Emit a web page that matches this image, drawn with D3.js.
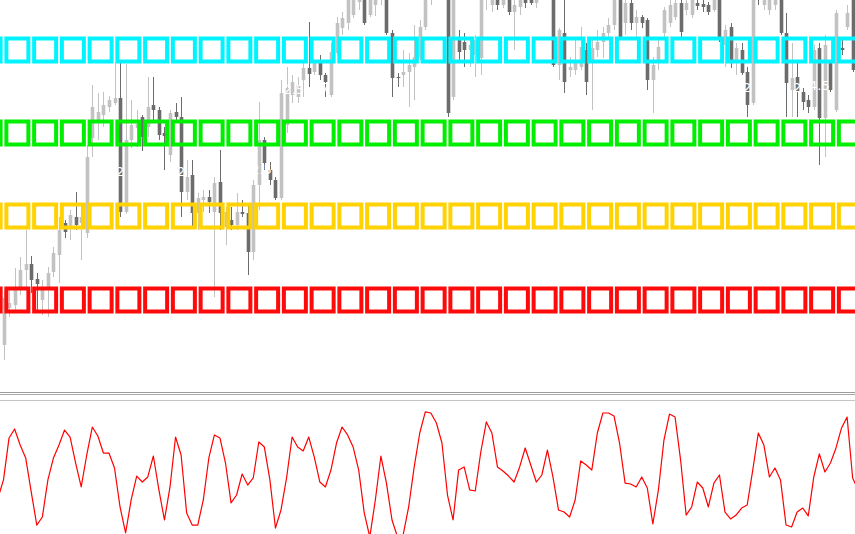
<!DOCTYPE html>
<html><head><meta charset="utf-8">
<script src="https://cdn.jsdelivr.net/npm/d3@7"></script>
<style>html,body{margin:0;padding:0;background:#fff;overflow:hidden}</style>
</head><body>
<svg id="c" width="855" height="534"></svg>
<script>
// ---- price bars (bar index = position in arrays) ----
const opens = [
1.0955,1.0992,1.0995,1.1010,1.1030,1.1036,1.1021,1.1000,1.1013,1.1028,
1.1045,1.1077,1.1072,1.1083,1.1077,1.1067,1.1162,1.1180,1.1185,1.1193,
1.1197,1.1202,1.1088,1.1160,1.1172,1.1183,1.1173,1.1195,1.1190,1.1167,
1.1145,1.1188,1.1183,1.1108,1.1125,1.1087,1.1100,1.1103,1.1088,1.1118,
1.1073,1.1080,1.1075,1.1088,1.1087,1.1048,1.1115,1.1160,1.1130,1.1120,
1.1102,1.1175,1.1205,1.1203,1.1220,1.1232,1.1228,1.1237,1.1225,1.1205,
1.1247,1.1272,1.1277,1.1285,1.1298,1.1305,1.1285,1.1295,1.1300,1.1308,
1.1267,1.1223,1.1225,1.1228,1.1233,1.1243,1.1273,1.1303,1.1315,1.1320,
1.1320,1.1203,1.1262,1.1258,1.1250,1.1245,1.1242,1.1300,1.1295,1.1305,
1.1295,1.1310,1.1288,1.1293,1.1302,1.1300,1.1297,1.1310,1.1315,1.1320,
1.1235,1.1267,1.1230,1.1230,1.1233,1.1250,1.1238,1.1250,1.1258,1.1267,
1.1275,1.1305,1.1277,1.1297,1.1277,1.1283,1.1280,1.1220,1.1237,1.1267,
1.1277,1.1283,1.1297,1.1290,1.1285,1.1297,1.1296,1.1295,1.1290,1.1305,
1.1255,1.1273,1.1238,1.1250,1.1228,1.1197,1.1310,1.1295,1.1290,1.1295,
1.1305,1.1267,1.1210,1.1223,1.1208,1.1200,1.1193,1.1252,1.1182,1.1237,
1.1190,1.1252,1.1273,1.1305];
const highs = [
1.1010,1.1013,1.1032,1.1043,1.1070,1.1044,1.1027,1.1020,1.1033,1.1053,
1.1083,1.1080,1.1090,1.1108,1.1097,1.1155,1.1215,1.1207,1.1208,1.1204,
1.1237,1.1237,1.1236,1.1200,1.1190,1.1185,1.1223,1.1223,1.1193,1.1173,
1.1190,1.1197,1.1203,1.1140,1.1140,1.1107,1.1110,1.1110,1.1123,1.1150,
1.1093,1.1093,1.1107,1.1100,1.1097,1.1120,1.1198,1.1163,1.1138,1.1123,
1.1220,1.1233,1.1225,1.1223,1.1240,1.1278,1.1240,1.1245,1.1227,1.1257,
1.1283,1.1288,1.1310,1.1312,1.1320,1.1315,1.1310,1.1315,1.1320,1.1315,
1.1270,1.1227,1.1250,1.1247,1.1275,1.1280,1.1315,1.1325,1.1335,1.1340,
1.1330,1.1320,1.1270,1.1267,1.1263,1.1265,1.1315,1.1320,1.1315,1.1315,
1.1320,1.1320,1.1310,1.1315,1.1310,1.1305,1.1315,1.1330,1.1335,1.1330,
1.1272,1.1300,1.1243,1.1260,1.1273,1.1257,1.1263,1.1270,1.1273,1.1282,
1.1315,1.1315,1.1305,1.1305,1.1290,1.1285,1.1282,1.1243,1.1260,1.1293,
1.1300,1.1305,1.1300,1.1305,1.1308,1.1300,1.1300,1.1298,1.1310,1.1315,
1.1275,1.1277,1.1257,1.1257,1.1233,1.1315,1.1320,1.1310,1.1310,1.1310,
1.1315,1.1287,1.1257,1.1240,1.1212,1.1205,1.1255,1.1257,1.1265,1.1240,
1.1290,1.1260,1.1295,1.1315];
const lows = [
1.0940,1.0983,1.0987,1.1005,1.1013,1.1007,1.0987,1.0985,1.0983,1.1023,
1.1017,1.1062,1.1060,1.1070,1.1040,1.1062,1.1143,1.1160,1.1173,1.1188,
1.1195,1.1083,1.1086,1.1152,1.1153,1.1149,1.1163,1.1177,1.1160,1.1130,
1.1138,1.1178,1.1083,1.1100,1.1073,1.1070,1.1088,1.1087,1.1003,1.1070,
1.1055,1.1070,1.1070,1.1083,1.1025,1.1040,1.1090,1.1130,1.1115,1.1100,
1.1100,1.1167,1.1197,1.1197,1.1203,1.1213,1.1225,1.1220,1.1203,1.1203,
1.1245,1.1265,1.1270,1.1282,1.1290,1.1275,1.1283,1.1284,1.1295,1.1265,
1.1203,1.1213,1.1213,1.1193,1.1200,1.1240,1.1270,1.1295,1.1308,1.1310,
1.1183,1.1200,1.1237,1.1233,1.1233,1.1223,1.1225,1.1290,1.1288,1.1290,
1.1292,1.1285,1.1250,1.1285,1.1292,1.1295,1.1292,1.1303,1.1310,1.1233,
1.1220,1.1207,1.1223,1.1225,1.1230,1.1205,1.1190,1.1243,1.1242,1.1260,
1.1270,1.1260,1.1265,1.1270,1.1263,1.1272,1.1210,1.1187,1.1230,1.1260,
1.1273,1.1280,1.1263,1.1285,1.1282,1.1290,1.1288,1.1285,1.1288,1.1258,
1.1233,1.1232,1.1225,1.1225,1.1183,1.1195,1.1295,1.1290,1.1285,1.1290,
1.1265,1.1183,1.1183,1.1183,1.1190,1.1187,1.1190,1.1135,1.1143,1.1208,
1.1188,1.1245,1.1270,1.1228];
const closes = [
1.1002,1.0997,1.1010,1.1030,1.1036,1.1020,1.1016,1.1013,1.1027,1.1047,
1.1070,1.1068,1.1085,1.1075,1.1083,1.1143,1.1193,1.1188,1.1195,1.1200,
1.1202,1.1088,1.1160,1.1175,1.1176,1.1163,1.1193,1.1190,1.1165,1.1164,
1.1187,1.1183,1.1108,1.1123,1.1087,1.1102,1.1103,1.1098,1.1117,1.1087,
1.1088,1.1075,1.1088,1.1086,1.1048,1.1115,1.1160,1.1137,1.1120,1.1102,
1.1207,1.1212,1.1218,1.1215,1.1232,1.1226,1.1237,1.1225,1.1218,1.1248,
1.1277,1.1282,1.1300,1.1305,1.1310,1.1277,1.1303,1.1305,1.1310,1.1267,
1.1222,1.1222,1.1228,1.1235,1.1243,1.1273,1.1305,1.1315,1.1325,1.1330,
1.1187,1.1310,1.1248,1.1250,1.1255,1.1260,1.1305,1.1310,1.1305,1.1295,
1.1310,1.1288,1.1295,1.1305,1.1297,1.1297,1.1305,1.1320,1.1325,1.1235,
1.1270,1.1218,1.1233,1.1240,1.1253,1.1218,1.1252,1.1258,1.1267,1.1275,
1.1305,1.1263,1.1297,1.1277,1.1283,1.1277,1.1220,1.1235,1.1253,1.1290,
1.1295,1.1297,1.1268,1.1297,1.1300,1.1294,1.1293,1.1288,1.1303,1.1260,
1.1270,1.1240,1.1252,1.1227,1.1195,1.1305,1.1300,1.1305,1.1300,1.1303,
1.1267,1.1217,1.1222,1.1208,1.1198,1.1193,1.1250,1.1182,1.1255,1.1210,
1.1287,1.1250,1.1287,1.1230];

// ---- horizontal levels drawn as rows of square markers ----
const levelPrices = [1.1250, 1.1167, 1.1084, 1.1000];
const levelColors = ["#00f4ff", "#00ee00", "#ffd200", "#ff0a0a"];
const markerEvery = 5;      // one square marker every 5 bars
const markerOffset = 2.5;   // first marker between bar 2 and 3

// ---- oscillator (sub-window), first value belongs to bar -1 ----
const oscStart = -1;
const oscValues = [
32.3,46.2,78.5,85.4,73.1,63.1,36.9,11.5,17.7,46.2,63.1,
73.1,84.6,79.2,59.2,40.8,65.4,86.9,80.0,66.9,66.9,
55.4,25.4,5.4,30.8,49.2,44.6,48.5,64.6,38.5,15.4,
40.8,79.2,65.4,20.8,11.5,11.5,30.8,63.1,80.8,78.5,
59.2,28.5,34.6,50.8,42.3,47.7,75.4,71.5,46.2,9.2,
23.1,47.7,79.2,71.5,68.5,79.2,63.8,44.6,40.8,53.8,
74.6,86.9,80.8,71.5,53.8,20.8,2.3,30.8,64.6,43.8,
15.4,2.3,3.8,25.4,56.2,82.3,98.5,97.7,90.0,74.6,
34.6,15.4,53.8,56.2,38.5,37.7,67.7,90.8,82.3,56.2,
53.1,49.2,44.6,56.2,70.8,57.7,44.6,50.0,69.2,48.5,
23.1,21.5,17.7,30.8,60.8,57.7,53.8,82.3,97.7,97.7,
95.4,74.6,43.8,43.1,40.8,48.5,40.0,12.3,38.5,76.9,
96.9,94.6,61.5,19.2,25.4,44.6,40.0,25.4,43.8,50.0,
21.5,16.2,19.2,24.6,26.9,53.8,82.3,73.1,48.5,55.4,
46.2,11.5,10.0,21.5,24.6,18.5,48.5,66.2,52.3,59.2,
70.8,86.2,94.6,47.7,38.5];

// ---- white text annotations on the chart (bar, price, text) ----
const noteText  = ["2", "2", "2.5", "2.5", "7", "2", "2", "4.5"];
const noteBar   = [21, 32, 46.5, 52.3, 58, 134, 143, 147];
const notePrice = [1.1128, 1.1128, 1.1130, 1.1210, 1.1212, 1.1212, 1.1212, 1.1214];

// ================= drawing =================
const W = 855, H = 534;
const svg = d3.select("#c");
const n = opens.length;

const x = d3.scaleLinear().domain([0, n - 1]).range([3.5, 852.65]);
const y = d3.scaleLinear().domain([1.13, 1.09]).range([0, 400]);
const yo = d3.scaleLinear().domain([0, 100]).range([540, 410]);

const bull = "#c2c2c2", bear = "#6c6c6c";
const bodyW = 3.6;

svg.append("rect").attr("width", W).attr("height", H).attr("fill", "#fff");

const defs = svg.append("defs");
defs.append("clipPath").attr("id", "main").append("rect")
  .attr("x", 0).attr("y", 0).attr("width", W).attr("height", 390);
defs.append("clipPath").attr("id", "sub").append("rect")
  .attr("x", 0).attr("y", 402).attr("width", W).attr("height", H - 402);

const main = svg.append("g").attr("clip-path", "url(#main)");
const bars = d3.range(n).map(i => ({i, o: opens[i], h: highs[i], l: lows[i], c: closes[i]}));

const cg = main.append("g").selectAll("g").data(bars).join("g");
cg.append("line")
  .attr("x1", d => Math.round(x(d.i)) + 0.5).attr("x2", d => Math.round(x(d.i)) + 0.5)
  .attr("y1", d => y(d.h)).attr("y2", d => y(d.l))
  .attr("stroke", d => d.c >= d.o ? bull : bear).attr("stroke-width", 1);
cg.append("rect")
  .attr("x", d => Math.round(x(d.i)) + 0.5 - bodyW / 2)
  .attr("width", bodyW)
  .attr("y", d => y(Math.max(d.o, d.c)))
  .attr("height", d => Math.max(1, Math.abs(y(d.o) - y(d.c))))
  .attr("fill", d => d.c >= d.o ? bull : bear);

// annotations (white text)
main.append("g").selectAll("text").data(noteText).join("text")
  .attr("x", (t, k) => x(noteBar[k]))
  .attr("y", (t, k) => y(notePrice[k]))
  .attr("text-anchor", "middle").attr("dominant-baseline", "middle")
  .attr("font-family", "DejaVu Sans, sans-serif").attr("font-size", 13)
  .attr("fill", "#ffffff").text(t => t);

// level markers
const markerIdx = d3.range(-1, Math.ceil((n - markerOffset) / markerEvery) + 1);
levelPrices.forEach((p, li) => {
  main.append("g").selectAll("rect").data(markerIdx).join("rect")
    .attr("x", k => x(markerOffset + k * markerEvery) - 11)
    .attr("y", y(p) - 11.5)
    .attr("width", 22).attr("height", 23)
    .attr("fill", "none")
    .attr("stroke", levelColors[li]).attr("stroke-width", 4);
});

// separator between main window and sub-window
svg.append("line").attr("x1", 0).attr("x2", W).attr("y1", 392.5).attr("y2", 392.5)
  .attr("stroke", "#9c9c9c").attr("stroke-width", 1);
svg.append("line").attr("x1", 0).attr("x2", W).attr("y1", 394.5).attr("y2", 394.5)
  .attr("stroke", "#a8a8a8").attr("stroke-width", 1);
svg.append("line").attr("x1", 0).attr("x2", W).attr("y1", 400.5).attr("y2", 400.5)
  .attr("stroke", "#c4c4c4").attr("stroke-width", 1);

// oscillator line
const sub = svg.append("g").attr("clip-path", "url(#sub)");
sub.append("path")
  .datum(oscValues.map((v, k) => ({i: k + oscStart, v})))
  .attr("d", d3.line().x(d => x(d.i)).y(d => yo(d.v)))
  .attr("fill", "none").attr("stroke", "#ff0000").attr("stroke-width", 1.2)
  .attr("stroke-linejoin", "round");
</script>
</body></html>
